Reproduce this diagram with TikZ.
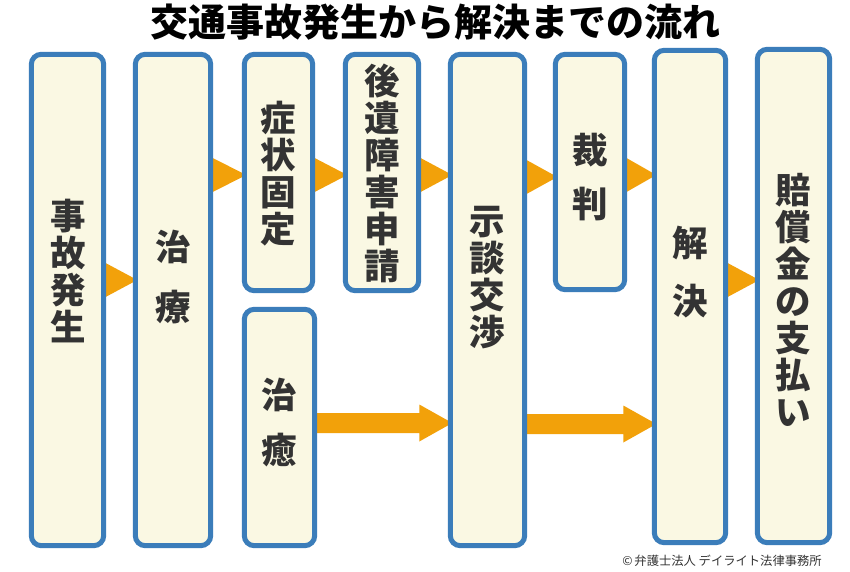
\documentclass[tikz,border=0pt]{standalone}
\usepackage{fontspec}
\newfontfamily\jp{Noto Sans CJK JP}
\usetikzlibrary{calc}
\definecolor{boxblue}{HTML}{3B7DBA}
\definecolor{boxfill}{HTML}{FAF8E3}
\definecolor{arroworange}{HTML}{F2A10A}
\definecolor{txtgray}{HTML}{333333}
\tikzset{
  flowbox/.style={draw=boxblue, fill=boxfill, line width=5pt, rounded corners=10pt, inner sep=0pt},
  vtext/.style={align=center, inner sep=0pt, text=txtgray, font=\jp\bfseries\fontsize{35.5}{37}\selectfont},
  arrowfill/.style={fill=arroworange},
}
\newcommand\tri[3]{\fill[arrowfill] let \p1=(#1.east), \p2=(#2.west), \p3=(0,#3) in (\x1,\y3+18pt) -- (\x2+2pt,\y3) -- (\x1,\y3-18pt) -- cycle;}
\newcommand\bigarr[3]{\fill[arrowfill] let \p1=(#1.east), \p2=(#2.west), \p3=(0,#3) in (\x1,\y3+10pt) -- (\x2-31pt,\y3+10pt) -- (\x2-31pt,\y3+18.5pt) -- (\x2+2pt,\y3) -- (\x2-31pt,\y3-18.5pt) -- (\x2-31pt,\y3-10pt) -- (\x1,\y3-10pt) -- cycle;}
\begin{document}
\begin{tikzpicture}[x=1pt, y=-1pt]
\useasboundingbox (0,0) rectangle (850,572);
\fill[white] (0,0) rectangle (850,572);
% box geometry (nodes, empty, drawn later on top of arrows)
\path
  (67.5,300)  node[minimum width=72pt, minimum height=491pt, inner sep=0pt] (b1) {}
  (173,300)   node[minimum width=75pt, minimum height=491pt, inner sep=0pt] (b2) {}
  (278.5,172.5) node[minimum width=68pt, minimum height=236pt, inner sep=0pt] (b3) {}
  (279.5,427.5) node[minimum width=70pt, minimum height=236pt, inner sep=0pt] (b4) {}
  (382,172.5) node[minimum width=73pt, minimum height=236pt, inner sep=0pt] (b5) {}
  (487.5,300) node[minimum width=74pt, minimum height=491pt, inner sep=0pt] (b6) {}
  (590,172)   node[minimum width=69pt, minimum height=235pt, inner sep=0pt] (b7) {}
  (690,296.5) node[minimum width=71pt, minimum height=492pt, inner sep=0pt] (b8) {}
  (793.5,296) node[minimum width=72pt, minimum height=493pt, inner sep=0pt] (b9) {};
% arrows
\tri{b1}{b2}{280}
\tri{b2}{b3}{175}
\tri{b3}{b5}{175}
\tri{b5}{b6}{175}
\tri{b6}{b7}{177}
\tri{b7}{b8}{175}
\tri{b8}{b9}{280}
\bigarr{b4}{b6}{423}
\bigarr{b6}{b8}{424}
% boxes
\foreach \b in {b1,b2,b3,b4,b5,b6,b7,b8,b9}
  \draw[flowbox] (\b.north west) rectangle (\b.south east);
% texts
\node[vtext] (t1) at (68,271) {事\\故\\発\\生};
\node[vtext, font=\jp\bfseries\fontsize{35.5}{60}\selectfont] (t2) at (173,277) {治\\療};
\node[vtext] (t3) at (278.5,174) {症\\状\\固\\定};
\node[vtext, font=\jp\bfseries\fontsize{35.5}{55}\selectfont] (t4) at (279.5,423) {治\\癒};
\node[vtext] (t5) at (382,173) {後\\遺\\障\\害\\申\\請};
\node[vtext] (t6) at (487.5,278) {示\\談\\交\\渉};
\node[vtext, font=\jp\bfseries\fontsize{35.5}{54}\selectfont] (t7) at (590,177) {裁\\判};
\node[vtext, font=\jp\bfseries\fontsize{35.5}{58}\selectfont] (t8) at (690,272) {解\\決};
\node[vtext] (t9) at (793.5,300) {賠\\償\\金\\の\\支\\払\\い};
\node[inner sep=0pt, text=black, font=\jp\bfseries\fontsize{38}{40}\selectfont] (title) at (435,22) {交通事故発生から解決までの流れ};
\node[inner sep=0pt, text=txtgray, font=\jp\fontsize{12.3}{14}\selectfont] (copy) at (722,561) {©\kern2pt弁護士法人 デイライト法律事務所};
\end{tikzpicture}
\end{document}
